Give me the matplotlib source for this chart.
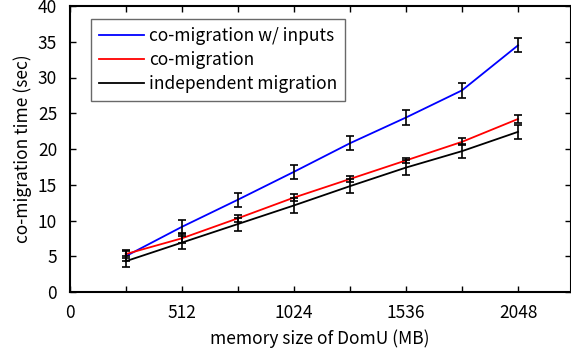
import matplotlib
matplotlib.use("Agg")
import matplotlib.pyplot as plt
from matplotlib.ticker import MultipleLocator, FuncFormatter

plt.rcParams['font.family'] = ['Noto Sans CJK JP', 'DejaVu Sans']

memory = [256, 512, 768, 1024, 1280, 1536, 1792, 2048]
with_inputs = [5.0, 9.1, 12.9, 16.8, 20.8, 24.4, 28.2, 34.5]
with_inputs_err = [0.7, 1.0, 1.0, 1.0, 1.0, 1.0, 1.0, 1.0]
co_migration = [5.3, 7.5, 10.3, 13.2, 15.8, 18.4, 21.0, 24.2]
co_migration_err = [0.6, 0.7, 0.5, 0.5, 0.4, 0.4, 0.5, 0.5]
independent = [4.3, 6.9, 9.5, 12.1, 14.8, 17.4, 19.7, 22.4]
independent_err = [0.8, 0.9, 0.9, 1.0, 1.0, 1.0, 1.0, 1.0]

W, H = 571, 356
fig = plt.figure(figsize=(W / 100, H / 100), dpi=100)
ax = fig.add_axes([69.6 / W, (H - 292) / H, 501 / W, 286 / H])

series = [
    ("co-migration w/ inputs", with_inputs, with_inputs_err, "#0000ff"),
    ("co-migration", co_migration, co_migration_err, "#ff0000"),
    ("independent migration", independent, independent_err, "#000000"),
]
for label, vals, errs, col in series:
    ax.plot(memory, vals, color=col, lw=1.3, label=label, zorder=3)
for label, vals, errs, col in series:
    ax.errorbar(memory, vals, yerr=errs, fmt='none', ecolor='black',
                elinewidth=1.2, capsize=3, capthick=1.2, zorder=4)

ax.set_xlim(0, 2288)
ax.set_ylim(0, 40)
ax.xaxis.set_major_locator(MultipleLocator(256))
ax.xaxis.set_major_formatter(FuncFormatter(lambda v, p: f"{int(v)}" if int(v) % 512 == 0 else ""))
ax.yaxis.set_major_locator(MultipleLocator(5))
ax.tick_params(direction='in', top=True, right=True, length=4, width=1,
               labelsize=12.5)
ax.tick_params(axis='x', pad=9)
ax.tick_params(axis='y', pad=9)
for s in ax.spines.values():
    s.set_linewidth(1.5)

ax.set_xlabel("memory size of DomU (MB)", fontsize=12.5, labelpad=5)
ax.set_ylabel("co-migration time (sec)", fontsize=12.5, labelpad=4)

leg = ax.legend(loc='upper left', bbox_to_anchor=(0.043, 0.955), fontsize=12.5,
                frameon=True, fancybox=False, edgecolor='#444444',
                handlelength=2.6, handletextpad=0.3, labelspacing=0.35,
                borderpad=0.45, borderaxespad=0)
leg.get_frame().set_linewidth(1.0)

fig.savefig("out.png", dpi=100)
